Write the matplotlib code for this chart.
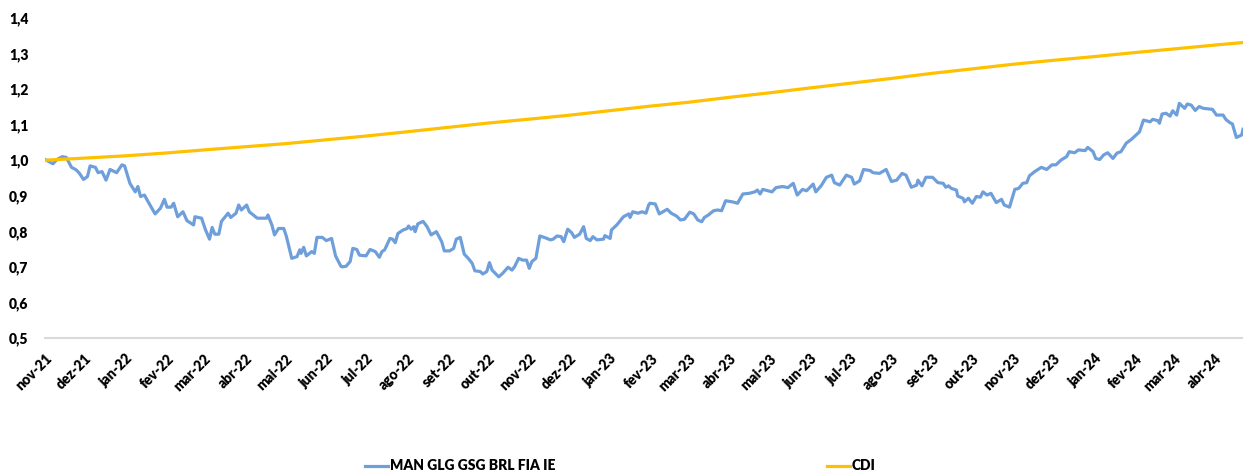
import matplotlib
matplotlib.use("Agg")
import matplotlib.pyplot as plt
import matplotlib.dates as mdates
from matplotlib.ticker import FuncFormatter, MultipleLocator
from matplotlib.lines import Line2D
import pandas as pd

# ---------------- data ----------------
start_date = "2021-11-01"
end_date = "2024-04-22"

fund_name = "MAN GLG GSG BRL FIA IE"
cdi_name = "CDI"

# days since start_date
fund_days = [
    0, 6, 9, 13, 16, 20, 23, 24, 26, 29, 32, 34, 38, 40, 43, 46, 49, 54, 58, 60,
    64, 68, 70, 72, 75, 77, 83, 87, 90, 92, 95, 97, 100, 104, 107, 112, 113, 118, 121, 124,
    126, 128, 131, 133, 138, 140, 144, 146, 148, 152, 154, 160, 167, 168, 171, 173, 176, 180, 182, 186,
    190, 192, 193, 195, 197, 201, 203, 205, 209, 212, 216, 219, 223, 224, 227, 230, 232, 235, 237, 242,
    245, 249, 252, 254, 256, 260, 262, 264, 266, 270, 273, 274, 276, 278, 279, 281, 285, 288, 291, 295,
    299, 301, 305, 308, 310, 313, 316, 319, 322, 324, 328, 330, 333, 335, 337, 342, 345, 349, 352, 354,
    357, 360, 363, 365, 367, 370, 373, 377, 381, 383, 386, 389, 391, 394, 397, 399, 403, 406, 408, 411,
    413, 416, 421, 422, 426, 427, 431, 436, 440, 441, 443, 447, 450, 453, 455, 456, 460, 463, 469, 472,
    476, 479, 482, 486, 489, 492, 495, 497, 500, 504, 507, 510, 513, 518, 522, 526, 531, 535, 537, 539,
    541, 548, 551, 556, 560, 564, 567, 571, 574, 579, 581, 585, 589, 593, 595, 599, 604, 608, 610, 614,
    617, 622, 624, 629, 634, 638, 642, 646, 649, 653, 657, 658, 661, 664, 669, 673, 677, 679, 681, 683,
    687, 688, 692, 693, 696, 699, 702, 705, 707, 710, 713, 717, 721, 723, 727, 731, 734, 737, 740, 742,
    746, 751, 755, 759, 762, 766, 770, 772, 776, 779, 784, 786, 790, 792, 795, 798, 801, 805, 808, 811,
    815, 819, 821, 825, 828, 833, 835, 839, 840, 842, 845, 848, 850, 853, 855, 859, 861, 864, 867, 870,
    873, 880, 883, 888, 890, 893, 895, 898, 902, 903,
]
fund_values = [
    1.002, 0.990, 1.002, 1.010, 1.008, 0.980, 0.974, 0.971, 0.963, 0.946, 0.954, 0.984, 0.980, 0.965, 0.968, 0.944, 0.974, 0.965, 0.987, 0.984,
    0.935, 0.911, 0.926, 0.898, 0.902, 0.888, 0.849, 0.865, 0.890, 0.868, 0.868, 0.879, 0.841, 0.855, 0.830, 0.818, 0.841, 0.837, 0.804, 0.778,
    0.811, 0.792, 0.792, 0.828, 0.851, 0.839, 0.851, 0.874, 0.860, 0.874, 0.855, 0.837, 0.837, 0.846, 0.818, 0.790, 0.808, 0.808, 0.785, 0.724,
    0.729, 0.748, 0.738, 0.755, 0.731, 0.743, 0.738, 0.783, 0.783, 0.774, 0.780, 0.731, 0.702, 0.700, 0.702, 0.715, 0.752, 0.749, 0.733, 0.731,
    0.749, 0.743, 0.727, 0.743, 0.748, 0.780, 0.778, 0.768, 0.794, 0.804, 0.808, 0.815, 0.806, 0.813, 0.799, 0.821, 0.828, 0.813, 0.790, 0.799,
    0.771, 0.745, 0.745, 0.752, 0.778, 0.783, 0.736, 0.724, 0.710, 0.689, 0.687, 0.680, 0.687, 0.712, 0.691, 0.672, 0.682, 0.699, 0.691, 0.701,
    0.724, 0.719, 0.719, 0.696, 0.715, 0.724, 0.787, 0.782, 0.776, 0.778, 0.787, 0.785, 0.771, 0.806, 0.796, 0.783, 0.792, 0.813, 0.780, 0.774,
    0.785, 0.776, 0.778, 0.788, 0.780, 0.804, 0.818, 0.841, 0.849, 0.839, 0.855, 0.851, 0.855, 0.851, 0.874, 0.879, 0.877, 0.849, 0.862, 0.851,
    0.843, 0.832, 0.834, 0.854, 0.849, 0.832, 0.827, 0.839, 0.846, 0.858, 0.860, 0.858, 0.886, 0.883, 0.879, 0.905, 0.907, 0.911, 0.916, 0.905,
    0.918, 0.911, 0.923, 0.926, 0.923, 0.935, 0.902, 0.918, 0.914, 0.933, 0.911, 0.928, 0.952, 0.958, 0.937, 0.930, 0.958, 0.952, 0.933, 0.942,
    0.974, 0.971, 0.965, 0.963, 0.974, 0.940, 0.944, 0.963, 0.958, 0.924, 0.930, 0.944, 0.928, 0.952, 0.952, 0.937, 0.935, 0.924, 0.928, 0.921,
    0.916, 0.899, 0.893, 0.883, 0.893, 0.879, 0.898, 0.896, 0.911, 0.902, 0.907, 0.881, 0.890, 0.874, 0.868, 0.918, 0.921, 0.935, 0.937, 0.956,
    0.968, 0.980, 0.974, 0.987, 0.987, 1.001, 1.010, 1.024, 1.021, 1.029, 1.027, 1.036, 1.024, 1.005, 1.002, 1.015, 1.021, 1.005, 1.020, 1.024,
    1.048, 1.059, 1.066, 1.080, 1.113, 1.108, 1.115, 1.111, 1.104, 1.130, 1.132, 1.124, 1.139, 1.127, 1.160, 1.146, 1.158, 1.155, 1.140, 1.151,
    1.146, 1.143, 1.127, 1.127, 1.115, 1.106, 1.102, 1.064, 1.071, 1.087,
]

cdi_dates = [
    "2021-11-01", "2021-12-01", "2022-01-01", "2022-02-01", "2022-03-01", "2022-04-01",
    "2022-05-01", "2022-06-01", "2022-07-01", "2022-08-01", "2022-09-01", "2022-10-01",
    "2022-11-01", "2022-12-01", "2023-01-01", "2023-02-01", "2023-03-01", "2023-04-01",
    "2023-05-01", "2023-06-01", "2023-07-01", "2023-08-01", "2023-09-01", "2023-10-01",
    "2023-11-01", "2023-12-01", "2024-01-01", "2024-02-01", "2024-03-01", "2024-04-01",
    "2024-04-22",
]
cdi_values = [
    1.000, 1.006, 1.0125, 1.0205, 1.029, 1.038,
    1.0465, 1.0575, 1.068, 1.080, 1.0925, 1.1045,
    1.1155, 1.1265, 1.1395, 1.1525, 1.1630, 1.1770,
    1.1895, 1.2035, 1.2165, 1.2300, 1.2445, 1.2570,
    1.2700, 1.2810, 1.2915, 1.3030, 1.3130, 1.3240,
    1.3310,
]

month_abbr = ["jan", "fev", "mar", "abr", "mai", "jun",
              "jul", "ago", "set", "out", "nov", "dez"]

# ---------------- plot ----------------
plt.rcParams["font.family"] = ["Lato", "DejaVu Sans"]
WEIGHT = "heavy"

fund_dates = pd.to_datetime(start_date) + pd.to_timedelta(fund_days, unit="D")
cdi_dt = pd.to_datetime(cdi_dates)

W, H = 1243, 476
fig = plt.figure(figsize=(W / 100, H / 100), dpi=100)
ax = fig.add_axes([45 / W, 1 - 338 / H, 1 - 45 / W, 320 / H])

fund_color = "#6F9FDB"
cdi_color = "#FFC000"

ax.plot(fund_dates, fund_values, color=fund_color, lw=2.3, solid_joinstyle="round")
ax.plot(cdi_dt, cdi_values, color=cdi_color, lw=2.3)

ax.set_ylim(0.5, 1.4)
ax.set_xlim(pd.to_datetime(start_date), pd.to_datetime(end_date))
ax.yaxis.set_major_locator(MultipleLocator(0.1))
ax.yaxis.set_major_formatter(FuncFormatter(lambda v, p: f"{v:.1f}".replace(".", ",")))

ax.xaxis.set_major_locator(mdates.MonthLocator())
ax.xaxis.set_major_formatter(FuncFormatter(
    lambda v, p: f"{month_abbr[mdates.num2date(v).month - 1]}-{mdates.num2date(v).year % 100:02d}"))

for s in ["top", "right", "left"]:
    ax.spines[s].set_visible(False)
ax.spines["bottom"].set_color("#D9D9D9")
ax.spines["bottom"].set_linewidth(1.5)

ax.tick_params(axis="y", length=0, pad=12, labelsize=10)
ax.tick_params(axis="x", length=0, pad=10, labelsize=10)
for lab in ax.get_yticklabels():
    lab.set_fontweight(WEIGHT)
for lab in ax.get_xticklabels():
    lab.set_fontweight(WEIGHT)
    lab.set_rotation(45)
    lab.set_ha("right")
    lab.set_rotation_mode("anchor")

# legend (two entries placed like the reference)
h1 = Line2D([], [], color=fund_color, lw=2.3)
h2 = Line2D([], [], color=cdi_color, lw=2.3)
for h, name, x0 in [(h1, fund_name, 365), (h2, cdi_name, 827)]:
    fig.legend([h], [name], loc="center left", bbox_to_anchor=(x0 / W, 1 - 466 / H),
               frameon=False, borderpad=0, borderaxespad=0, handlelength=1.65,
               handletextpad=0.15, prop={"weight": WEIGHT, "size": 10})

fig.savefig("out.png", dpi=100)
